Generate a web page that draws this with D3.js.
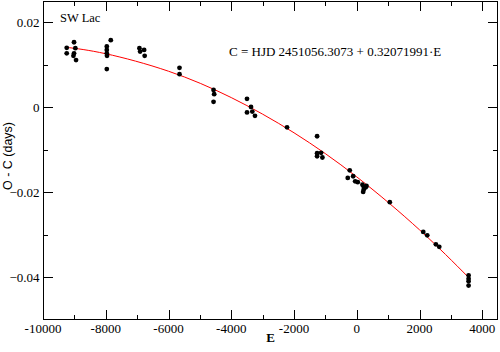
<!DOCTYPE html>
<html>
<head>
<meta charset="utf-8">
<script src="https://cdn.jsdelivr.net/npm/d3@7"></script>
<style>
  body { margin: 0; background: #fff; }
  svg { display: block; }
  .tick-label { font-family: 'Liberation Serif', 'Times New Roman', serif; font-size: 13px; }
  .serif { font-family: 'Liberation Serif', 'Times New Roman', serif; }
  .sans { font-family: 'Liberation Sans', Arial, sans-serif; font-size: 12.5px; }
</style>
</head>
<body>
<div id="chart"></div>
<script>
/* global d3 */

// O-C residuals of SW Lac (E = epoch, O-C in days)
var epochE = [
  -9244, -9244, -9011, -9011, -8969, -9030, -8947,
  -7967, -7967, -7967, -7960, -7967, -7840,
  -6927, -6905, -6777, -6760,
  -5650, -5650,
  -4565, -4545, -4565,
  -3499, -3371, -3499, -3330, -3245,
  -2223,
  -1265, -1265, -1265, -1137, -1096,
  -225, -288, -116, -52, 31, 181, 222, 286, 222, 203, 308,
  1052,
  2118, 2245, 2520, 2628,
  3563, 3563, 3563, 3563
];
var ocDays = [
  0.0140, 0.0127, 0.0153, 0.0127, 0.0139, 0.0121, 0.0111,
  0.0143, 0.0135, 0.0127, 0.0121, 0.0090, 0.0158,
  0.0139, 0.0131, 0.0135, 0.0121,
  0.0093, 0.0078,
  0.0041, 0.0031, 0.0013,
  0.0020, 0.0001, -0.0012, -0.0010, -0.0020,
  -0.0047,
  -0.0068, -0.0108, -0.0115, -0.0107, -0.0118,
  -0.0148, -0.0166, -0.0162, -0.0174, -0.0176, -0.0182, -0.0187, -0.0188, -0.0193, -0.0199, -0.0185,
  -0.0223,
  -0.0293, -0.0301, -0.0322, -0.0328,
  -0.0395, -0.0403, -0.0409, -0.0419
];

// red fitted curve
var fitE = [-9300, -8000, -6000, -4000, -2000, 0, 2000, 3570];
var fitOC = [0.01415, 0.0126, 0.00849, 0.00229, -0.00599, -0.01636, -0.02881, -0.04005];

var xMajor = [-10000, -8000, -6000, -4000, -2000, 0, 2000, 4000];
var xMinor = [-9000, -7000, -5000, -3000, -1000, 1000, 3000];
var yMajor = [0.02, 0, -0.02, -0.04];
var yMinor = [0.01, -0.01, -0.03];

var starName = 'SW Lac';
var ephemeris = 'C = HJD 2451056.3073 + 0.32071991\u00b7E';
var xTitle = 'E';
var yTitle = 'O - C (days)';

var G = {
  width: 500,
  height: 352,
  box: { left: 43, top: 1, right: 498, bottom: 320 },
  major: 10,
  minor: 5
};

init();

function init() {
  var b = G.box;
  G.x = d3.scaleLinear().domain([-10000, 4500]).range([b.left, b.right]);
  G.y = d3.scaleLinear().domain([-0.05, 0.025]).range([b.bottom, b.top]);

  G.svg = d3.select('#chart').append('svg')
    .attr('width', G.width)
    .attr('height', G.height);

  drawTicks();
  drawCurve();
  drawPoints();
  drawFrame();
  drawTexts();
}

function drawTicks() {
  var b = G.box, g = G.svg.append('g').attr('stroke', '#000').attr('stroke-width', 1);
  function xt(list, len) {
    list.forEach(function(v) {
      var px = Math.round(G.x(v)) + 0.5;
      g.append('line').attr('x1', px).attr('x2', px).attr('y1', b.bottom).attr('y2', b.bottom - len);
      g.append('line').attr('x1', px).attr('x2', px).attr('y1', b.top).attr('y2', b.top + len);
    });
  }
  function yt(list, len) {
    list.forEach(function(v) {
      var py = Math.round(G.y(v)) + 0.5;
      g.append('line').attr('x1', b.left).attr('x2', b.left + len).attr('y1', py).attr('y2', py);
      g.append('line').attr('x1', b.right).attr('x2', b.right - len).attr('y1', py).attr('y2', py);
    });
  }
  xt(xMajor, G.major); xt(xMinor, G.minor);
  yt(yMajor, G.major); yt(yMinor, G.minor);

  G.svg.append('g').selectAll('text')
    .data(xMajor).enter().append('text')
    .attr('class', 'tick-label')
    .attr('x', function(d) { return G.x(d); })
    .attr('y', 333)
    .attr('text-anchor', 'middle')
    .text(function(d) { return d; });

  G.svg.append('g').selectAll('text')
    .data(yMajor).enter().append('text')
    .attr('class', 'tick-label')
    .attr('x', 39.5)
    .attr('y', function(d) { return G.y(d); })
    .attr('dy', '0.35em')
    .attr('text-anchor', 'end')
    .text(function(d) { return d === 0 ? '0' : d3.format('.2f')(d); });
}

function drawCurve() {
  var line = d3.line()
    .x(function(d) { return G.x(d[0]); })
    .y(function(d) { return G.y(d[1]); })
    .curve(d3.curveNatural);
  G.svg.append('path')
    .datum(d3.zip(fitE, fitOC))
    .attr('d', line)
    .attr('fill', 'none')
    .attr('stroke', '#ff0000')
    .attr('stroke-width', 1);
}

function drawPoints() {
  G.svg.append('g').selectAll('circle')
    .data(d3.zip(epochE, ocDays)).enter().append('circle')
    .attr('cx', function(d) { return G.x(d[0]); })
    .attr('cy', function(d) { return G.y(d[1]); })
    .attr('r', 2.4)
    .attr('fill', '#000');
}

function drawFrame() {
  var b = G.box;
  G.svg.append('rect')
    .attr('x', b.left + 0.5)
    .attr('y', b.top + 0.5)
    .attr('width', b.right - b.left - 1)
    .attr('height', b.bottom - b.top - 1)
    .attr('fill', 'none')
    .attr('stroke', '#000')
    .attr('stroke-width', 1);
}

function drawTexts() {
  G.svg.append('text').attr('class', 'serif')
    .attr('x', 60).attr('y', 22)
    .style('font-size', '12.5px')
    .text(starName);
  G.svg.append('text').attr('class', 'serif')
    .attr('x', 229).attr('y', 56)
    .style('font-size', '13px')
    .text(ephemeris);
  G.svg.append('text').attr('class', 'serif')
    .attr('x', (G.box.left + G.box.right) / 2).attr('y', 342)
    .attr('text-anchor', 'middle')
    .style('font-size', '13px')
    .style('font-weight', 'bold')
    .text(xTitle);
  G.svg.append('text').attr('class', 'sans')
    .attr('transform', 'translate(12,156) rotate(-90)')
    .attr('text-anchor', 'middle')
    .text(yTitle);
}
</script>
</body>
</html>
